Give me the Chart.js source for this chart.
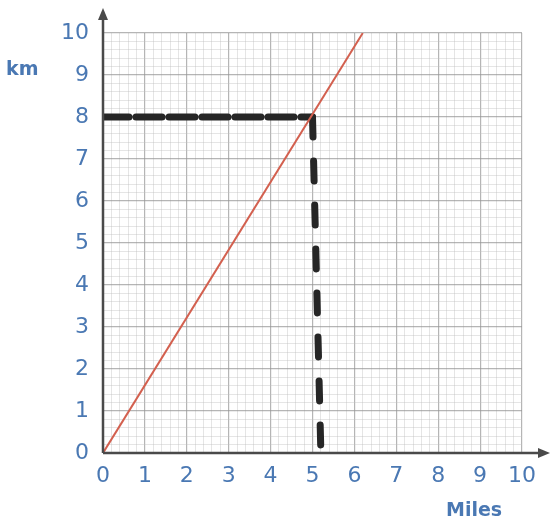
<!DOCTYPE html>
<html>
<head>
<meta charset="utf-8">
<script src="https://cdn.jsdelivr.net/npm/chart.js@4/dist/chart.umd.min.js"></script>
<style>
  html, body { margin: 0; padding: 0; background: #fff; }
  #wrap { width: 550px; height: 525px; position: relative; }
</style>
</head>
<body>
<div id="wrap"><canvas id="conv"></canvas></div>
<script>
// miles -> km conversion line
const lineMiles = [0, 6.2]
const lineKm = [0, 10]

// reading off 8 km
const readKm = 8
const readMilesTop = 5.0
const readMilesBottom = 5.2

const axisMax = 10
const minorStep = 0.2

const labelBlue = '#4a78b3'
const labelFont = { family: 'DejaVu Sans', size: 22 }

// draws the two main axes with arrow heads, running past the grid
const arrowAxes = {
  id: 'arrowAxes',
  afterDatasetsDraw(chart) {
    const { ctx, scales: { x, y } } = chart
    const x0 = x.getPixelForValue(0)
    const y0 = y.getPixelForValue(0)
    const topEnd = 12
    const rightEnd = chart.width - 2
    ctx.save()
    ctx.strokeStyle = '#4a4a4a'
    ctx.fillStyle = '#4a4a4a'
    ctx.lineWidth = 2.5
    ctx.beginPath()
    ctx.moveTo(x0, y0)
    ctx.lineTo(x0, topEnd + 6)
    ctx.moveTo(x0, y0)
    ctx.lineTo(rightEnd - 6, y0)
    ctx.stroke()
    // up arrow
    ctx.beginPath()
    ctx.moveTo(x0, topEnd - 4)
    ctx.lineTo(x0 - 5, topEnd + 8)
    ctx.lineTo(x0 + 5, topEnd + 8)
    ctx.closePath()
    ctx.fill()
    // right arrow
    ctx.beginPath()
    ctx.moveTo(rightEnd + 2, y0)
    ctx.lineTo(rightEnd - 10, y0 - 5)
    ctx.lineTo(rightEnd - 10, y0 + 5)
    ctx.closePath()
    ctx.fill()
    // axis names
    ctx.fillStyle = labelBlue
    ctx.font = 'bold 19px "DejaVu Sans"'
    ctx.textAlign = 'left'
    ctx.textBaseline = 'middle'
    ctx.fillText('km', 6, 70)
    ctx.fillText('Miles', 446, 511)
    ctx.restore()
  }
}

const isWhole = v => Math.abs(v - Math.round(v)) < 1e-6

const gridColor = ctx => {
  const v = ctx.tick ? ctx.tick.value : 0
  return isWhole(v) ? 'rgba(150,150,150,0.7)' : 'rgba(190,190,190,0.5)'
}

const gridWidth = ctx => {
  const v = ctx.tick ? ctx.tick.value : 0
  return isWhole(v) ? 1.2 : 0.8
}

const tickOpts = {
  stepSize: minorStep,
  autoSkip: false,
  maxRotation: 0,
  minRotation: 0,
  color: labelBlue,
  font: labelFont,
  callback: v => isWhole(v) ? String(Math.round(v)) : ''
}

new Chart(document.getElementById('conv'), {
  type: 'scatter',
  data: {
    datasets: [
      {
        label: 'conversion',
        data: lineMiles.map((m, i) => ({ x: m, y: lineKm[i] })),
        showLine: true,
        borderColor: '#d3604f',
        borderWidth: 2,
        pointRadius: 0
      },
      {
        label: 'across',
        data: [{ x: 0, y: readKm }, { x: readMilesTop, y: readKm }],
        showLine: true,
        borderColor: '#262626',
        borderWidth: 7,
        borderDash: [26, 7],
        borderCapStyle: 'round',
        pointRadius: 0
      },
      {
        label: 'down',
        data: [{ x: readMilesTop, y: readKm }, { x: readMilesBottom, y: 0 }],
        showLine: true,
        borderColor: '#262626',
        borderWidth: 7,
        borderDash: [20, 24],
        borderCapStyle: 'round',
        pointRadius: 0
      }
    ]
  },
  options: {
    responsive: true,
    maintainAspectRatio: false,
    animation: false,
    layout: { padding: { top: 33, right: 28, left: 0, bottom: 0 } },
    plugins: {
      legend: { display: false },
      tooltip: { enabled: false }
    },
    scales: {
      x: {
        type: 'linear',
        min: 0,
        max: axisMax,
        border: { display: false },
        grid: { color: gridColor, lineWidth: gridWidth, drawTicks: false },
        ticks: Object.assign({ padding: 10 }, tickOpts),
        afterFit: s => { s.height = 72 }
      },
      y: {
        type: 'linear',
        min: 0,
        max: axisMax,
        border: { display: false },
        grid: { color: gridColor, lineWidth: gridWidth, drawTicks: false },
        ticks: Object.assign({ padding: 14 }, tickOpts),
        afterFit: s => { s.width = 103 }
      }
    }
  },
  plugins: [arrowAxes]
})
</script>
</body>
</html>
